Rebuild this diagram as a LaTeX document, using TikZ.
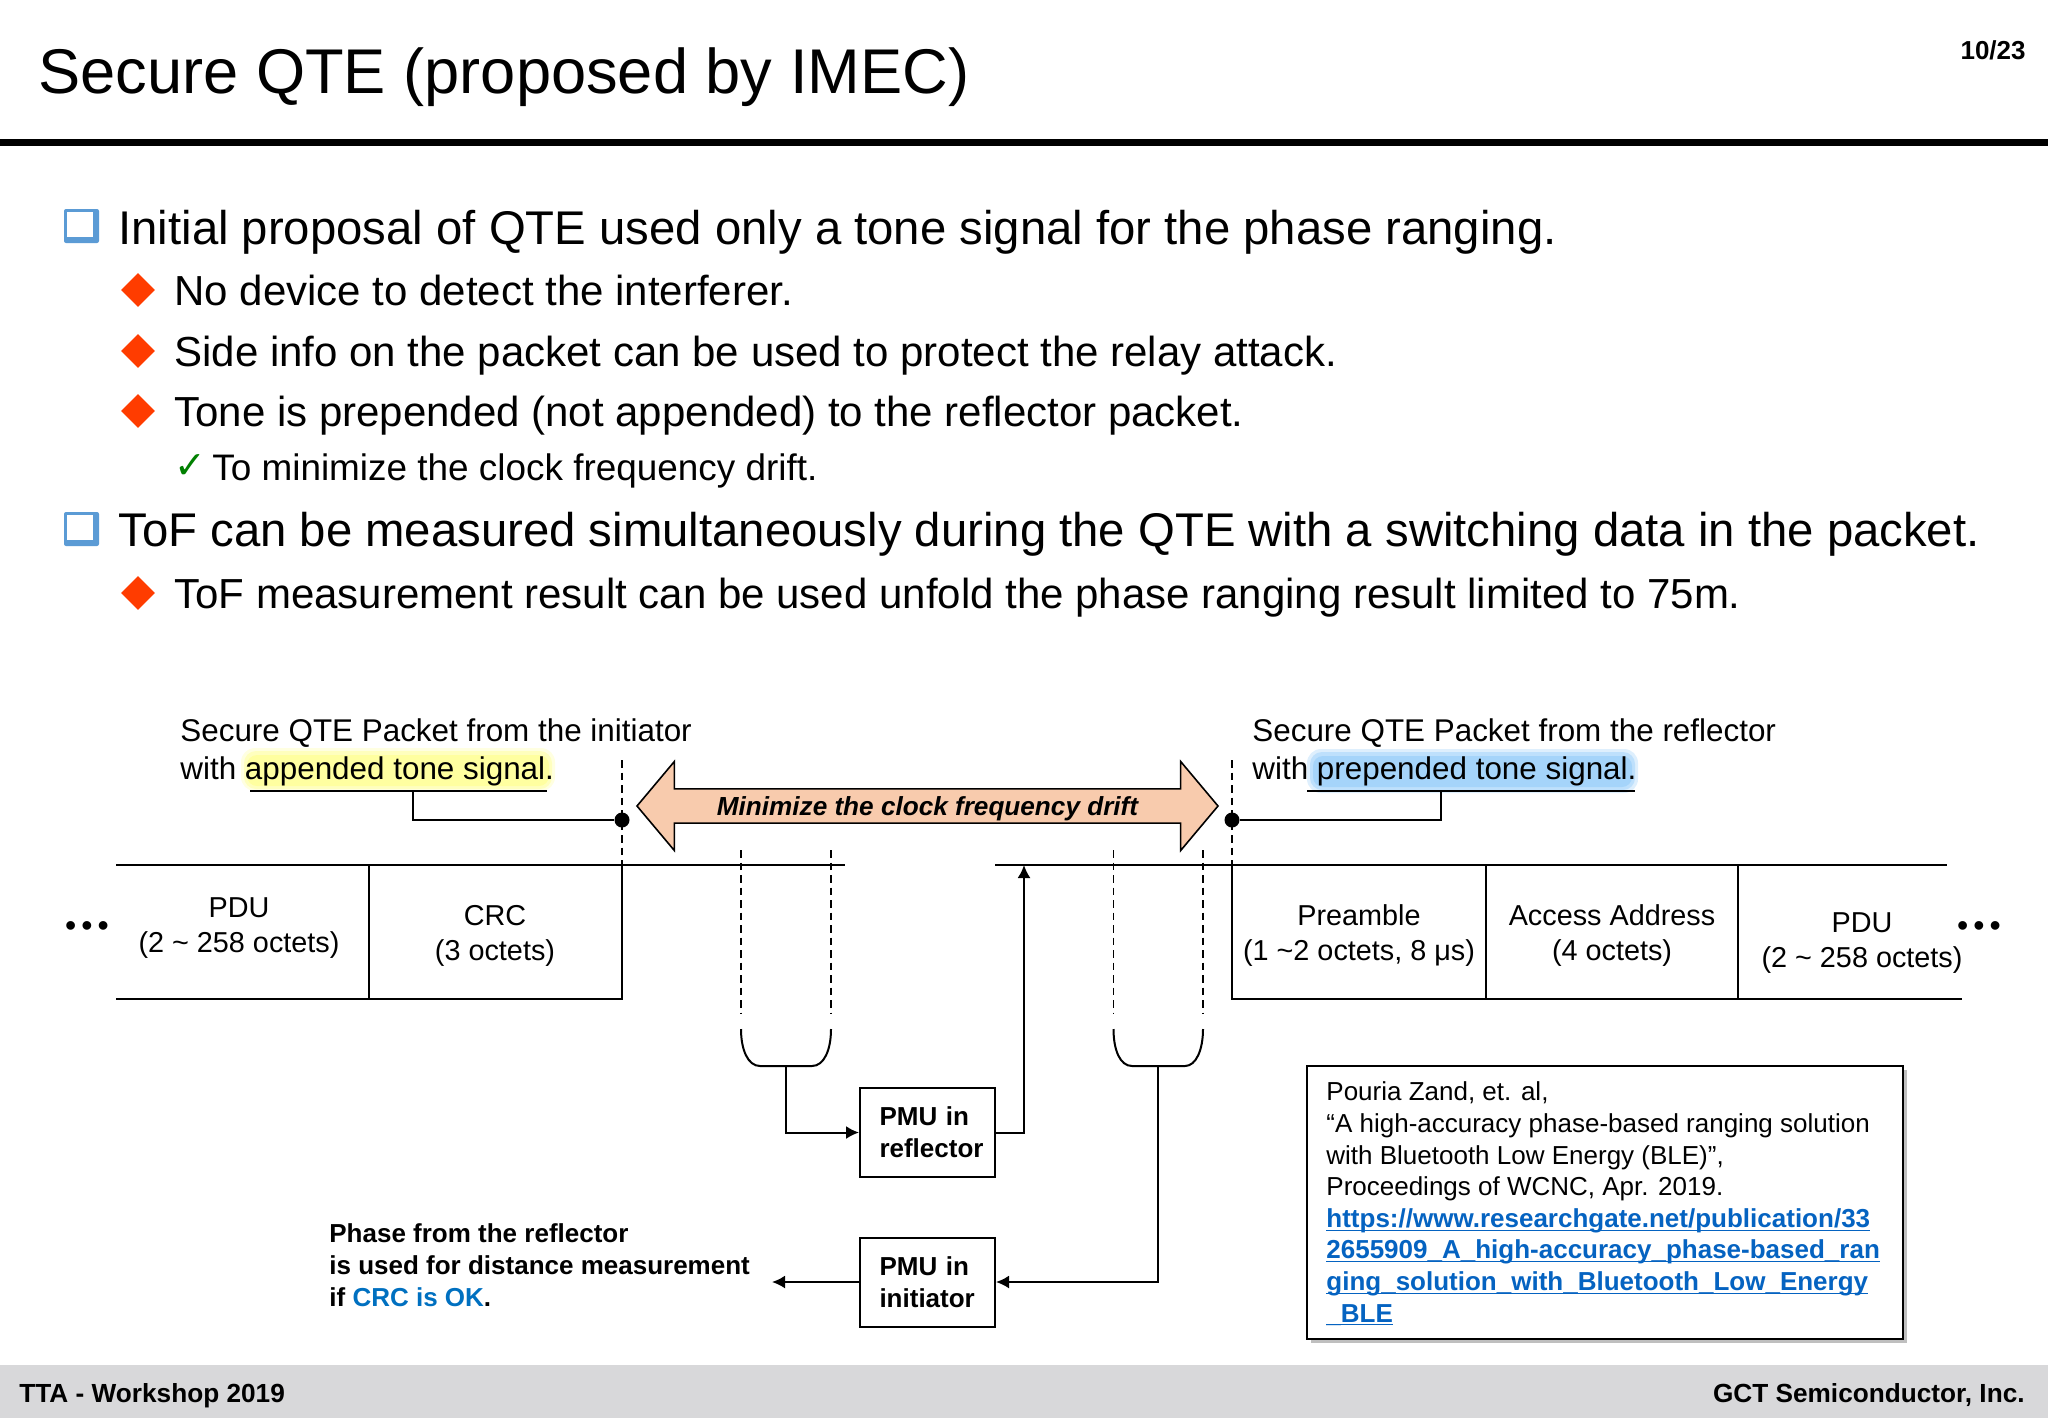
\documentclass[tikz,border=0pt]{standalone}
\usepackage{fontspec}
\setmainfont{Liberation Sans}
\newfontfamily\symfont{DejaVu Sans}
\usepackage{xcolor}
\usetikzlibrary{shapes,arrows,arrows.meta,positioning,shadows}
\definecolor{sqblue}{RGB}{91, 155, 213}
\definecolor{dmred}{RGB}{255, 60, 0}
\definecolor{okgreen}{RGB}{0, 128, 0}
\definecolor{peach}{RGB}{248, 203, 173}
\definecolor{linkblue}{RGB}{5, 99, 193}
\definecolor{crcblue}{RGB}{0, 112, 192}
\definecolor{footgray}{RGB}{216, 216, 218}
\definecolor{glowya}{RGB}{255, 255, 225}
\definecolor{glowyb}{RGB}{255, 255, 190}
\definecolor{glowyc}{RGB}{255, 255, 160}
\definecolor{glowba}{RGB}{222, 239, 253}
\definecolor{glowbb}{RGB}{190, 224, 252}
\definecolor{glowbc}{RGB}{165, 212, 250}
\newcommand{\linkline}[1]{\underline{\smash{#1}}}
\tikzstyle{title} = [anchor=base west, inner sep=0pt, font=\fontsize{31.6}{36}\selectfont]
\tikzstyle{lone} = [anchor=base west, inner sep=0pt, font=\fontsize{23.65}{27}\selectfont]
\tikzstyle{ltwo} = [anchor=base west, inner sep=0pt, font=\fontsize{21}{25}\selectfont]
\tikzstyle{lthree} = [anchor=base west, inner sep=0pt, font=\fontsize{18.45}{22}\selectfont]
\tikzstyle{ditem} = [diamond, fill=dmred, inner sep=0pt, minimum width=17pt, minimum height=17pt]
\tikzstyle{caption} = [anchor=base west, inner sep=0pt, align=left, font=\fontsize{15.7}{19}\selectfont]
\tikzstyle{cell} = [anchor=base, inner sep=0pt, align=center, font=\fontsize{14.4}{17.5}\selectfont]
\tikzstyle{pmu} = [draw, line width=1pt, minimum height=44.5pt, text width=48pt, inner xsep=9.75pt, inner ysep=0pt, align=left, font=\fontsize{13}{16}\selectfont\bfseries]
\tikzstyle{note} = [anchor=base west, inner sep=0pt, align=left, font=\fontsize{13}{15.8}\selectfont]
\tikzstyle{foot} = [inner sep=0pt, font=\fontsize{13.1}{16}\selectfont\bfseries]
\tikzstyle{tedge} = [draw, line width=1pt, >={Latex[length=6.5pt,width=6.5pt]}]
\tikzstyle{thinl} = [draw, line width=1pt]
\tikzstyle{dashl} = [draw, line width=0.7pt, dash pattern=on 3.75pt off 2.5pt]
\begin{document}
\begin{tikzpicture}[x=0.5pt,y=-0.5pt]
\useasboundingbox (0,0) rectangle (2048,1418);

% header and footer =============================
\node[title] (ttl) at (38,94) {Secure QTE (proposed by IMEC)};
\node[foot, anchor=base east, font=\fontsize{13}{16}\selectfont\bfseries] (pageno) at (2026,60) {10/23};
\draw[line width=3.5pt] (0,142) -- (2048,142);
\fill[footgray] (0,1365) rectangle (2048,1418);
\node[foot, anchor=base west] (footl) at (19,1402) {TTA - Workshop 2019};
\node[foot, anchor=base east] (footr) at (2025,1402) {GCT Semiconductor, Inc.};

% bullets
\fill[sqblue, rounded corners=1pt] (64,209) rectangle (99,243);
\fill[white] (67,212) rectangle (93,237);
\fill[sqblue, rounded corners=1pt] (64,512) rectangle (99,546);
\fill[white] (67,515) rectangle (93,540);
\node[lone] (a1) at (118,244) {Initial proposal of QTE used only a tone signal for the phase ranging.};
\node[ditem] (d1) at (138,290) {};
\node[ltwo] (a2) at (174,305) {No device to detect the interferer.};
\node[ditem] (d2) at (138,351) {};
\node[ltwo] (a3) at (174,366) {Side info on the packet can be used to protect the relay attack.};
\node[ditem] (d3) at (138,411) {};
\node[ltwo] (a4) at (174,426) {Tone is prepended (not appended) to the reflector packet.};
\node[lthree, text=okgreen, font=\fontsize{19}{22}\selectfont] (chk) at (174,478) {\symfont ✓};
\node[lthree] (a5) at (212,480) {To minimize the clock frequency drift.};
\node[lone] (b1) at (118,546) {ToF can be measured simultaneously during the QTE with a switching data in the packet.};
\node[ditem] (d4) at (138,593) {};
\node[ltwo] (b2) at (174,608) {ToF measurement result can be used unfold the phase ranging result limited to 75m.};

% highlights
\fill[glowya, rounded corners=7pt] (241,748) rectangle (555,791);
\fill[glowyb, rounded corners=6pt] (244,751) rectangle (552,789);
\fill[glowyc, rounded corners=5pt] (247,755) rectangle (549,786);
\fill[glowba, rounded corners=7pt] (1307,749) rectangle (1638,793);
\fill[glowbb, rounded corners=6pt] (1310,752) rectangle (1635,790);
\fill[glowbc, rounded corners=5pt] (1313,756) rectangle (1632,787);

% captions
\node[caption] (capi) at (180,779) {Secure QTE Packet from the initiator\\with appended tone signal.};
\node[caption] (capr) at (1252,779) {Secure QTE Packet from the reflector\\with prepended tone signal.};

% arrow
\node[double arrow, draw, fill=peach, line width=0.8pt, double arrow head extend=9.75pt, double arrow tip angle=100, minimum height=290.5pt, minimum width=44.5pt, inner sep=1pt, text depth=0pt, font=\fontsize{13.07}{16}\selectfont\bfseries\itshape] (drift) at (927.5,806) {Minimize the clock frequency drift};

% packet frames
\coordinate (li) at (622,865);
\coordinate (ri) at (1232,865);
\coordinate (lib) at (622,999);
\coordinate (rib) at (1232,999);
\draw[thinl] (116,865) -- (845,865);
\draw[thinl] (995,865) -- (1947,865);
\draw[thinl] (116,999) -- (lib) -- (li);
\draw[thinl] (ri) -- (rib) -- (1962,999);
\draw[thinl] (369,865) -- (369,999);
\draw[thinl] (1486,865) -- (1486,999);
\draw[thinl] (1738,865) -- (1738,999);
\node[cell] (pdul) at (239,952) {PDU\\(2 \textasciitilde{} 258 octets)};
\node[cell] (crc) at (495,960) {CRC\\(3 octets)};
\node[cell] (pre) at (1359,960) {Preamble\\(1 \textasciitilde2 octets, 8 μs)};
\node[cell] (aa) at (1612,960) {Access Address\\(4 octets)};
\node[cell] (pdur) at (1862,967) {PDU\\(2 \textasciitilde{} 258 octets)};
\node[cell, font=\fontsize{16}{20}\selectfont] (dotsl) at (87,936) {•\kern2.5pt•\kern2.5pt•};
\node[cell, font=\fontsize{16}{20}\selectfont] (dotsr) at (1979,936) {•\kern2.5pt•\kern2.5pt•};

% edges from the underlines
\coordinate (ulap) at (413,791);
\coordinate (ulpr) at (1441,791);
\node[circle, fill=black, inner sep=0pt, minimum size=7.5pt] (doti) at (622,820) {};
\node[circle, fill=black, inner sep=0pt, minimum size=7.5pt] (dotr) at (1232,820) {};
\draw[thinl] (250,791) -- (547,791);
\draw[thinl] (1307,791) -- (1635,791);
\draw[line width=1.2pt] (ulap) |- (doti);
\draw[line width=1.2pt] (ulpr) |- (dotr);
\draw[dashl] (622,760) -- (li);
\draw[dashl] (1232,760) -- (ri);

% brackets
\coordinate (brkr) at (786,1066);
\coordinate (brki) at (1158,1066);
\draw[dashl] (741,850) -- (741,1014);
\draw[dashl] (831,850) -- (831,1014);
\draw[dashl] (1113.5,850) -- (1113.5,1014);
\draw[dashl] (1203,850) -- (1203,1014);
\draw[thinl] (741,1029) .. controls (741,1050) and (748,1066) .. (760,1066) -- (812,1066) .. controls (824,1066) and (831,1050) .. (831,1029);
\draw[thinl] (1113.5,1029) .. controls (1113.5,1050) and (1120,1066) .. (1132,1066) -- (1185,1066) .. controls (1196,1066) and (1203,1050) .. (1203,1029);

% PMU blocks
\node[pmu] (pmur) at (927.5,1132.5) {PMU in\\reflector};
\node[pmu] (pmui) at (927.5,1282) {PMU in\\initiator};
\coordinate (topa) at (1024,865);
\coordinate (phase) at (772,1282);
\path[tedge, ->] (brkr) |- (pmur);
\path[tedge, ->] (pmur) -| (topa);
\path[tedge, ->] (brki) |- (pmui);
\path[tedge, ->] (pmui) -- (phase);

\node[note, font=\fontsize{13}{15.8}\selectfont\bfseries] (res) at (329,1306) {Phase from the reflector\\is used for distance measurement\\if \textcolor{crcblue}{CRC is OK}.};

% reference =============================
\node[draw, line width=1pt, fill=white, minimum width=298pt, minimum height=136.5pt, drop shadow={shadow xshift=2pt, shadow yshift=-2pt, opacity=0.5}] (refbox) at (1605,1202.5) {};
\node[note] (refs) at (1326,1322) {Pouria Zand, et. al,\\
``A high-accuracy phase-based ranging solution\\
with Bluetooth Low Energy (BLE)'',\\
Proceedings of WCNC, Apr. 2019.\\
\textcolor{linkblue}{\bfseries\linkline{https://www.researchgate.net/publication/33}}\\
\textcolor{linkblue}{\bfseries\linkline{2655909\_A\_high-accuracy\_phase-based\_ran}}\\
\textcolor{linkblue}{\bfseries\linkline{ging\_solution\_with\_Bluetooth\_Low\_Energy}}\\
\textcolor{linkblue}{\bfseries\linkline{\_BLE}}};

\end{tikzpicture}
\end{document}
